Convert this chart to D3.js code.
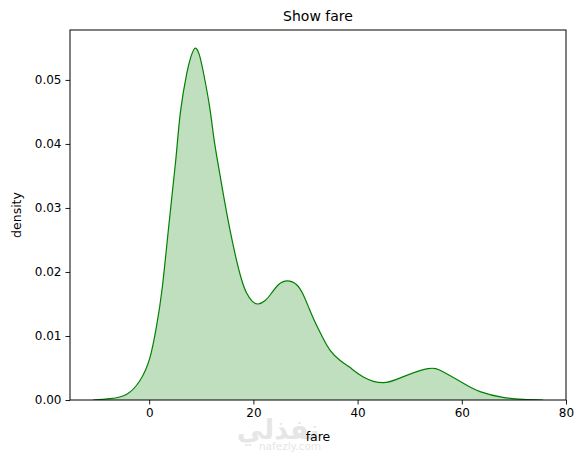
<!DOCTYPE html>
<html><head><meta charset="utf-8">
<script src="https://cdn.jsdelivr.net/npm/d3@7"></script>
<style>body{margin:0;background:#fff}svg{display:block}text{font-family:"DejaVu Sans",sans-serif}</style>
</head><body>
<script>
const fare = [-10.8,-7.5,-4.3,-1.8,0.1,1.4,2.5,3.8,5.1,6.0,7.2,8.0,8.8,9.6,10.4,11.6,12.4,13.3,14.3,15.4,16.6,17.7,18.7,19.8,20.9,22.2,23.4,24.8,26.5,28.3,29.6,30.8,32.1,33.4,34.7,36.6,38.5,41.1,44.9,48.8,53.5,56.4,60.3,63.5,67.9,71.8,75.6];
const density = [0,0.0002,0.0009,0.003,0.0065,0.0115,0.0175,0.0275,0.0375,0.0450,0.0510,0.0536,0.05495,0.0540,0.0512,0.0458,0.0410,0.0365,0.0318,0.0270,0.0224,0.0189,0.0167,0.0154,0.0150,0.0155,0.0166,0.0180,0.0186,0.0180,0.0164,0.0141,0.0117,0.0096,0.0078,0.0062,0.0051,0.0036,0.0027,0.00365,0.0049,0.0044,0.0026,0.0013,0.0004,0.0001,0];
const xTicks = [0,20,40,60,80];
const yTicks = [0,0.01,0.02,0.03,0.04,0.05];
const title = "Show fare", xLabel = "fare", yLabel = "density";

const W=584,H=453, L=70,R=566,T=30,B=400;
const svg=d3.select("body").append("svg").attr("width",W).attr("height",H);
const x=d3.scaleLinear().domain([-15.2,80]).range([L,R]);
const y=d3.scaleLinear().domain([0,0.0578]).range([B,T]);
const pts=fare.map((f,i)=>[f,density[i]]);
const curve=d3.curveNatural;
const area=d3.area().x(d=>x(d[0])).y0(y(0)).y1(d=>y(d[1])).curve(curve);
const line=d3.line().x(d=>x(d[0])).y(d=>y(d[1])).curve(curve);
// watermark (behind)
svg.append("text").attr("x",278).attr("y",439).attr("text-anchor","middle").attr("font-size",27).attr("font-weight","bold").attr("fill","#e6e6e6").attr("font-family","Noto Sans, DejaVu Sans").text("نفذلي");
svg.append("text").attr("x",290).attr("y",450).attr("text-anchor","middle").attr("font-size",10.5).attr("fill","#e6e6e6").text("nafezly.com");

svg.append("defs").append("clipPath").attr("id","clip").append("rect").attr("x",L).attr("y",T).attr("width",R-L).attr("height",B-T);
const plot=svg.append("g").attr("clip-path","url(#clip)");
plot.append("path").datum(pts).attr("d",area).attr("fill","#008000").attr("fill-opacity",0.25);
plot.append("path").datum(pts).attr("d",line).attr("fill","none").attr("stroke","#008000").attr("stroke-width",1.2);

const gx=svg.append("g").attr("transform",`translate(0,${B})`).call(d3.axisBottom(x).tickValues(xTicks).tickFormat(d3.format("d")).tickSize(4.5).tickPadding(4));
const gy=svg.append("g").attr("transform",`translate(${L},0)`).call(d3.axisLeft(y).tickValues(yTicks).tickFormat(d3.format(".2f")).tickSize(4.5).tickPadding(4));
[gx,gy].forEach(g=>{g.select(".domain").remove();g.selectAll("text").attr("font-size",12).attr("fill","#000").attr("font-family","DejaVu Sans");g.selectAll("line").attr("stroke","#000").attr("stroke-width",0.9);});
svg.append("rect").attr("x",L).attr("y",T).attr("width",R-L).attr("height",B-T).attr("fill","none").attr("stroke","#000").attr("stroke-width",1);

svg.append("text").attr("x",(L+R)/2).attr("y",21).attr("text-anchor","middle").attr("font-size",14).text(title);
svg.append("text").attr("x",(L+R)/2).attr("y",441).attr("text-anchor","middle").attr("font-size",12.5).text(xLabel);
svg.append("text").attr("transform",`translate(21,${(T+B)/2}) rotate(-90)`).attr("text-anchor","middle").attr("font-size",12.5).text(yLabel);
</script>
</body></html>
